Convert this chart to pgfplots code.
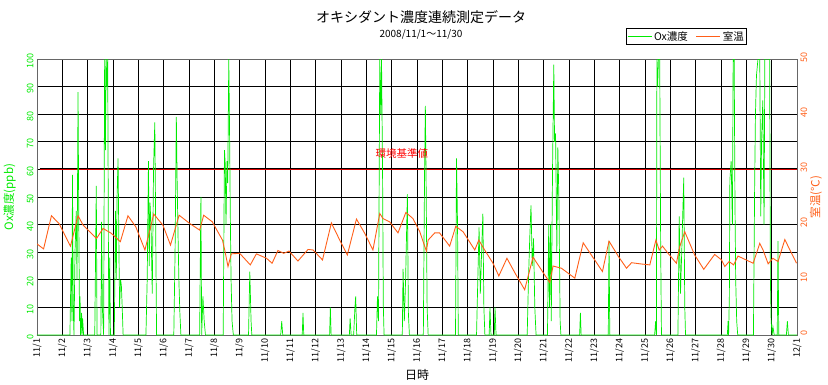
\documentclass[border=0pt]{standalone}
\usepackage{fontspec}
\setmainfont{Noto Sans CJK JP}
\usepackage{pgfplots}
\pgfplotsset{compat=1.18}
\definecolor{oxg}{RGB}{0,235,0}
\definecolor{tmp}{RGB}{255,95,25}
\begin{document}
\begin{tikzpicture}
\useasboundingbox (0pt,0pt) rectangle (828pt,384pt);
\begin{axis}[
  at={(37pt,49pt)}, anchor=south west,
  width=760pt, height=276pt, scale only axis,
  xmin=0, xmax=30, ymin=0, ymax=100,
  xtick={0,...,30},
  xticklabels={11/1,11/2,11/3,11/4,11/5,11/6,11/7,11/8,11/9,11/10,11/11,11/12,11/13,11/14,11/15,11/16,11/17,11/18,11/19,11/20,11/21,11/22,11/23,11/24,11/25,11/26,11/27,11/28,11/29,11/30,12/1},
  ytick={0,10,...,100},
  grid=major,
  major grid style={black, line width=0.8pt},
  axis line style={black!60, line width=0.8pt},
  major tick length=0pt,
  /pgf/number format/assume math mode=true,
  tick label style={font=\fontsize{9}{10}\selectfont},
  xticklabel style={rotate=90, anchor=east, xshift=0pt, yshift=0pt},
  yticklabel style={rotate=90, anchor=south, color=oxg, xshift=-2pt},
  ylabel={Ox濃度(ppb)},
  ylabel style={at={(axis description cs:-0.036,0.5)}, anchor=center, rotate=0, color=oxg, font=\fontsize{11.5}{12}\selectfont},
  legend columns=2,
  legend style={at={(0.775,1.112)}, anchor=north west, draw=black, line width=0.6pt, font=\fontsize{10.5}{11}\selectfont, inner sep=1pt, /tikz/every even column/.append style={column sep=6pt}},
  legend image code/.code={\draw[#1] (0pt,0pt) -- (24pt,0pt);},
]
\addlegendimage{oxg, line width=0.8pt}
\addlegendentry{Ox濃度}
\addlegendimage{tmp, line width=0.8pt}
\addlegendentry{室温}
\addplot[black, line width=2pt, forget plot] coordinates {(0.1,60) (30,60)};
\addplot[red!85!black, line width=0.9pt, forget plot] coordinates {(0.1,60) (30,60)};
\addplot[oxg, line width=0.7pt, forget plot] coordinates {
(0,0) (1.30,0) (1.35,28) (1.38,5) (1.40,58) (1.43,10) (1.46,0) (1.50,30) (1.55,45) (1.58,20) (1.62,88) (1.65,40) (1.68,5) (1.70,14) (1.72,0) (1.76,8) (1.78,0) (1.80,6) (1.84,0)
(2.28,0) (2.34,54) (2.37,0) (2.52,0) (2.55,41) (2.58,10) (2.63,0) (2.67,100) (2.70,67) (2.73,100) (2.76,90) (2.79,100) (2.82,30) (2.84,0) (2.87,28) (2.90,0)
(3.05,0) (3.10,45) (3.13,20) (3.16,50) (3.20,64) (3.23,35) (3.26,10) (3.30,20) (3.33,18) (3.36,11) (3.40,0)
(4.30,0) (4.35,20) (4.40,63) (4.43,25) (4.46,48) (4.50,40) (4.55,15) (4.60,60) (4.65,77) (4.68,45) (4.72,0)
(5.40,0) (5.45,30) (5.50,79) (5.53,57) (5.56,40) (5.60,20) (5.64,8) (5.68,0)
(6.42,0) (6.47,50) (6.50,0) (6.55,14) (6.60,5) (6.65,0)
(7.35,0) (7.40,67) (7.43,62) (7.46,40) (7.50,63) (7.53,55) (7.57,100) (7.60,75) (7.63,44) (7.66,20) (7.70,5) (7.75,0)
(8.35,0) (8.40,23) (8.45,5) (8.48,0)
(9.62,0) (9.66,5) (9.70,0)
(10.47,0) (10.50,8) (10.53,0)
(11.55,0) (11.58,10) (11.61,0)
(12.33,0) (12.36,6) (12.40,0) (12.50,0) (12.55,10) (12.58,14) (12.62,0)
(13.40,0) (13.44,14) (13.48,5) (13.53,100) (13.57,80) (13.60,100) (13.64,60) (13.67,11) (13.70,0)
(14.42,0) (14.45,24) (14.50,5) (14.55,20) (14.62,51) (14.66,8) (14.70,0)
(15.25,0) (15.30,60) (15.33,83) (15.36,55) (15.40,10) (15.44,0)
(16.52,0) (16.56,64) (16.60,40) (16.63,0)
(17.35,0) (17.40,20) (17.45,39) (17.50,15) (17.55,30) (17.60,44) (17.64,10) (17.68,0) (17.85,0) (17.88,10) (17.92,0) (18.05,0) (18.08,10) (18.12,0)
(19.35,0) (19.40,20) (19.45,35) (19.50,47) (19.55,25) (19.60,35) (19.65,10) (19.70,0)
(20.15,0) (20.20,40) (20.23,10) (20.27,40) (20.30,5) (20.35,60) (20.40,98) (20.43,70) (20.47,73) (20.52,30) (20.56,68) (20.60,50) (20.65,5) (20.68,0)
(21.42,0) (21.45,8) (21.48,0)
(22.55,0) (22.58,34) (22.61,0)
(24.38,0) (24.42,5) (24.45,0) (24.47,100) (24.50,90) (24.53,100) (24.58,100) (24.62,30) (24.65,0)
(25.30,0) (25.35,43) (25.40,15) (25.45,30) (25.53,57) (25.57,10) (25.60,0)
(27.25,0) (27.28,5) (27.30,0) (27.33,14) (27.35,56) (27.40,63) (27.45,40) (27.48,100) (27.52,100) (27.55,50) (27.58,20) (27.62,5) (27.66,0)
(28.28,0) (28.33,56) (28.36,80) (28.40,94) (28.46,100) (28.50,100) (28.53,100) (28.57,43) (28.60,70) (28.65,85) (28.70,40) (28.73,100) (28.78,100) (28.83,100) (28.88,100) (28.92,100) (28.95,20) (28.98,5) (29.02,0) (29.05,3) (29.10,0)
(29.22,0) (29.25,34) (29.28,0)
(29.58,0) (29.62,5) (29.66,0) (30,0)
};
\node[red, font=\fontsize{10.5}{11}\selectfont] at (axis cs:14.4,65.8) {環境基準値};
\end{axis}
\begin{axis}[
  at={(37pt,49pt)}, anchor=south west,
  width=760pt, height=276pt, scale only axis,
  xmin=0, xmax=30, ymin=0, ymax=50,
  axis x line=none, axis y line*=right,
  axis line style={black!60, line width=0.8pt},
  ytick={0,10,...,50},
  major tick length=0pt,
  /pgf/number format/assume math mode=true,
  tick label style={font=\fontsize{9}{10}\selectfont},
  yticklabel style={rotate=90, anchor=north, color=tmp, xshift=2pt},
  ylabel={室温(℃)},
  ylabel style={at={(axis description cs:1.025,0.5)}, anchor=center, rotate=0, color=tmp, font=\fontsize{11.5}{12}\selectfont},
]
\addplot[tmp, line width=0.9pt] coordinates {
(0.00,16.5) (0.26,15.6) (0.57,21.6) (0.87,20.2) (1.32,16.1) (1.62,21.6) (1.82,19.9) (2.35,17.5) (2.61,19.3) (2.94,18.4) (3.29,16.9) (3.59,21.6) (3.90,19.6) (4.26,15.4) (4.61,21.9) (4.97,19.9) (5.27,16.3) (5.61,21.7) (6.03,20.2) (6.42,19.0) (6.58,21.7) (6.92,20.5) (7.32,17.2) (7.41,15.4) (7.54,12.4) (7.67,14.7) (8.00,14.8) (8.42,12.7) (8.66,14.7) (9.06,13.9) (9.28,13.0) (9.51,15.3) (9.74,14.8) (9.95,15.2) (10.30,13.4) (10.70,15.5) (10.90,15.4) (11.27,13.6) (11.62,20.3) (11.95,17.2) (12.25,14.5) (12.61,21.0) (12.94,18.4) (13.26,15.4) (13.53,22.0) (13.66,21.1) (13.92,20.5) (14.25,18.5) (14.56,22.2) (14.84,21.1) (15.11,18.7) (15.37,15.2) (15.44,17.2) (15.70,18.5) (15.89,18.5) (16.29,16.1) (16.53,19.7) (16.82,18.7) (17.28,15.4) (17.44,17.2) (17.63,15.7) (18.00,13.0) (18.23,10.7) (18.55,13.9) (18.86,11.3) (19.25,8.2) (19.58,14.1) (19.78,12.7) (20.24,9.5) (20.37,12.5) (20.70,12.1) (21.23,10.3) (21.56,16.7) (22.32,11.5) (22.58,17.0) (22.94,14.3) (23.27,12.1) (23.47,13.1) (23.79,12.9) (24.19,12.7) (24.43,17.2) (24.56,15.4) (24.69,16.1) (24.91,14.8) (25.24,13.0) (25.37,16.0) (25.57,18.7) (25.96,14.5) (26.32,11.9) (26.75,14.6) (27.02,13.6) (27.15,12.4) (27.32,13.3) (27.50,12.7) (27.67,14.3) (28.27,13.0) (28.40,14.8) (28.53,16.6) (28.66,15.4) (28.86,12.9) (29.05,13.9) (29.25,13.3) (29.52,17.3) (29.72,15.4) (29.98,13.0)
};
\end{axis}
\node[font=\fontsize{14}{15}\selectfont] at (421pt,367pt) {オキシダント濃度連続測定データ};
\node[font=\fontsize{10}{11}\selectfont] at (421pt,350pt) {2008/11/1～11/30};
\node[font=\fontsize{12}{13}\selectfont] at (417pt,9pt) {日時};
\end{tikzpicture}
\end{document}
